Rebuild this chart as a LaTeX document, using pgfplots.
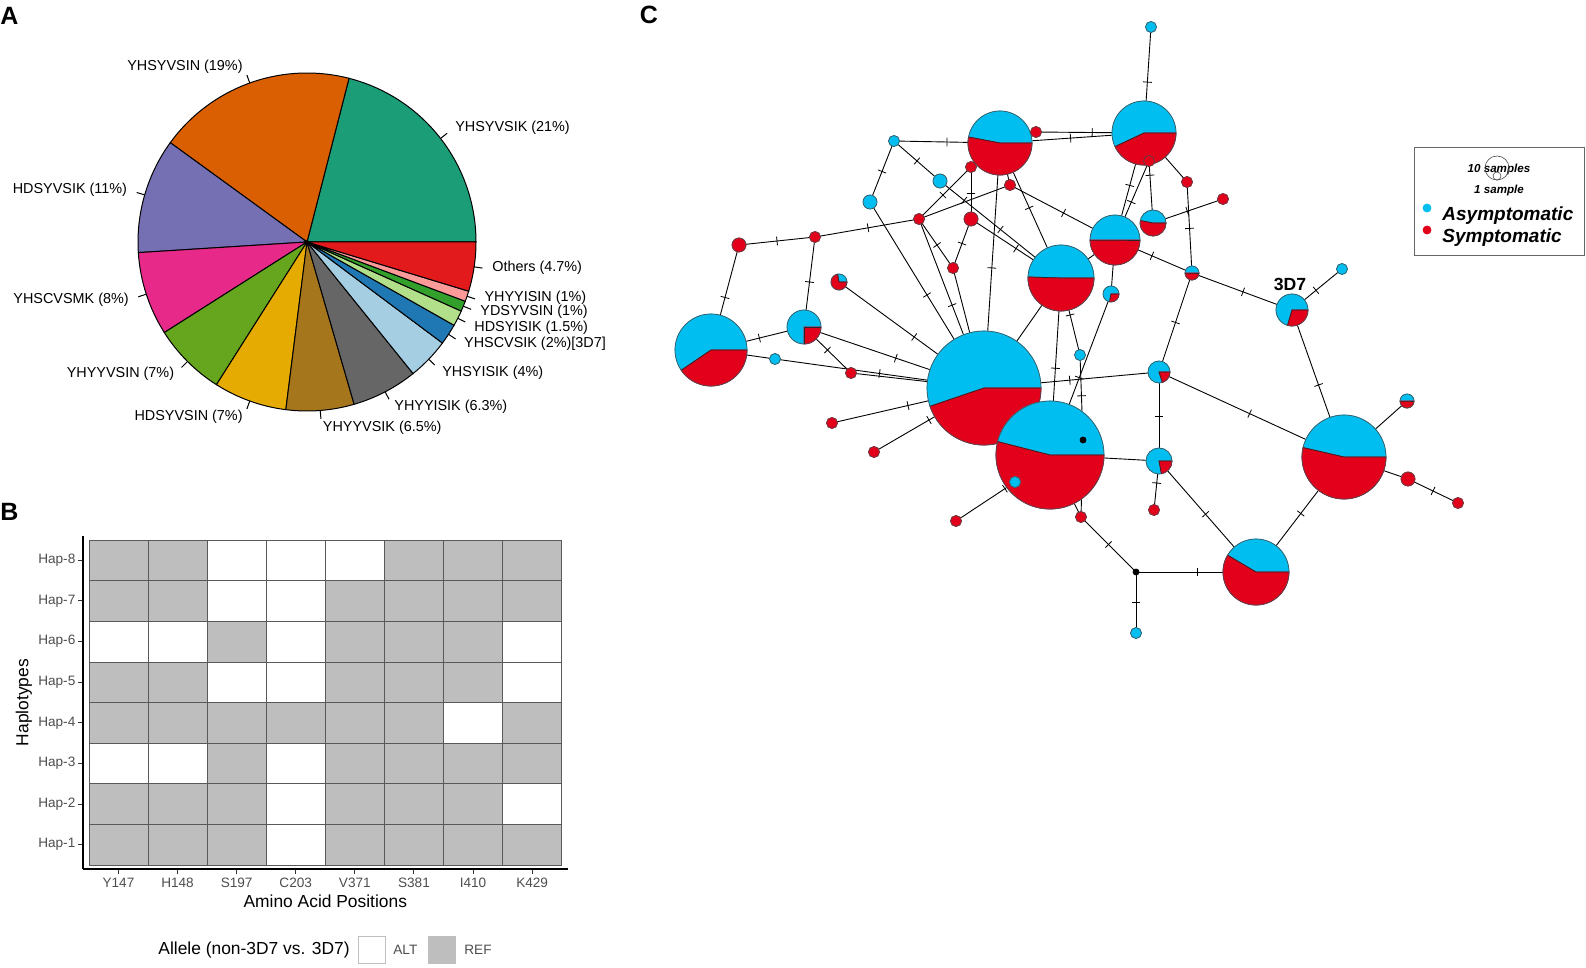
\documentclass[border=0pt]{standalone}
\usepackage{fontspec}
\setmainfont{Liberation Sans}
\usepackage{pgfplots}
\pgfplotsset{compat=1.18}
\usetikzlibrary{decorations.markings}

% pie colours (Dark2 + Paired)
\definecolor{pA}{HTML}{1B9E77}
\definecolor{pB}{HTML}{D95F02}
\definecolor{pC}{HTML}{7570B3}
\definecolor{pD}{HTML}{E7298A}
\definecolor{pE}{HTML}{66A61E}
\definecolor{pF}{HTML}{E6AB02}
\definecolor{pG}{HTML}{A6761D}
\definecolor{pH}{HTML}{666666}
\definecolor{pI}{HTML}{A6CEE3}
\definecolor{pJ}{HTML}{1F78B4}
\definecolor{pK}{HTML}{B2DF8A}
\definecolor{pL}{HTML}{33A02C}
\definecolor{pM}{HTML}{FB9A99}
\definecolor{pN}{HTML}{E31A1C}
\definecolor{cblue}{RGB}{0,190,240}
\definecolor{cred}{RGB}{226,0,26}
\definecolor{refgray}{RGB}{190,190,190}
\definecolor{txtgray}{RGB}{77,77,77}

% a mark that draws nothing; the scatter code below does the drawing
\pgfdeclareplotmark{blank}{}

\newcommand\piefont{\fontsize{7.2}{8.6}\selectfont}
\newcommand\pielabel[1]{\ifcase#1 YHSYVSIK (21\%)\or YHSYVSIN (19\%)\or HDSYVSIK (11\%)\or
  YHSCVSMK (8\%)\or YHYYVSIN (7\%)\or HDSYVSIN (7\%)\or YHYYVSIK (6.5\%)\or
  YHYYISIK (6.3\%)\or YHSYISIK (4\%)\or YHSCVSIK (2\%)[3D7]\or HDSYISIK (1.5\%)\or
  YDSYVSIN (1\%)\or YHYYISIN (1\%)\or Others (4.7\%)\fi}

\pgfplotsset{
  edge/.style={black, line width=0.45pt},
  tk/.style={postaction={decorate, decoration={markings,
      mark=at position #1 with {\draw[line width=0.4pt, black] (0,-2.2pt) -- (0,2.2pt);}}}},
}

\begin{document}
\begin{tikzpicture}

% ---------- canvas axis in pixel units: panel A pie and panel C network
\begin{axis}[
  at={(0,0)}, anchor=south west, scale only axis,
  width=793pt, height=484pt,
  xmin=0, xmax=1586, ymin=0, ymax=968, y dir=reverse,
  hide axis, clip=false,
]
% panel letters
\node[font=\bfseries\fontsize{12.5}{14}\selectfont] at (axis cs:9.5,16) {A};
\node[font=\bfseries\fontsize{12.5}{14}\selectfont] at (axis cs:9.5,512) {B};
\node[font=\bfseries\fontsize{12.5}{14}\selectfont] at (axis cs:649,15) {C};

% ---- pie (p = percent, a = start angle, d = label nudge in px)
\addplot[scatter, only marks, mark=blank,
  visualization depends on={\thisrow{a}\as\aA},
  visualization depends on={\thisrow{p}\as\pp},
  visualization depends on={\thisrow{d}\as\dd},
  visualization depends on={value \thisrow{c}\as\cc},
  visualization depends on={value \thisrow{i}\as\ii},
  scatter/@pre marker code/.code={%
    \pgfmathsetmacro\pe{\aA+3.6*\pp}%
    \pgfmathsetmacro\pmid{\aA+1.8*\pp}%
    \pgfmathsetmacro\dsh{-0.5*\dd}%
    \filldraw[fill=\cc, draw=black, line width=0.5pt] (0,0) -- (\aA:84.5pt)
      arc[start angle=\aA, end angle=\pe, radius=84.5pt] -- cycle;
    \draw[line width=0.5pt] (\pmid:84.5pt) -- (\pmid:88.7pt);
    \pgfmathsetmacro\pcos{cos(\pmid)}%
    \ifdim\pcos pt>0pt \def\an{west}\else\def\an{east}\fi
    \node[anchor=\an, inner sep=0.5pt, font=\piefont, yshift=\dsh pt] at (\pmid:93pt) {\pielabel{\ii}};
  },
  scatter/@post marker code/.code={},
] table {
x   y   p   a      c  i  d
307 242 21  0      pA 0  0
307 242 19  75.6   pB 1  0
307 242 11  144    pC 2  0
307 242 8   183.6  pD 3  0
307 242 7   212.4  pE 4  0
307 242 7   237.6  pF 5  0
307 242 6.5 262.8  pG 6  0
307 242 6.3 286.2  pH 7  0
307 242 4   308.88 pI 8  2
307 242 2   323.28 pJ 9  0
307 242 1.5 330.48 pK 10 2
307 242 1   335.88 pL 11 -1
307 242 1   339.48 pM 12 -4
307 242 4.7 343.08 pN 13 -2
};

% ---- network edges
\addplot[edge,tk=.5] coordinates {(894,141) (1000,143)};
\addplot[edge,tk=.5] coordinates {(894,141) (870,202)};
\addplot[edge,tk=.5] coordinates {(894,141) (940,181)};
\addplot[edge,tk=.2,tk=.5] coordinates {(940,181) (1061,278)};
\addplot[edge,tk=.5] coordinates {(971,219) (1061,278)};
\addplot[edge,tk=.52] coordinates {(1036,132) (1144,133)};
\addplot[edge,tk=.49] coordinates {(1000,143) (1144,133)};
\addplot[edge,tk=.54] coordinates {(971,167) (919,219)};
\addplot[edge,tk=.5] coordinates {(971,167) (971,219)};
\addplot[edge] coordinates {(919,219) (1010,185)};
\addplot[edge,tk=.51] coordinates {(1010,185) (1115,240)};
\addplot[edge,tk=.48] coordinates {(1000,143) (1061,278)};
\addplot[edge,tk=.51] coordinates {(1000,143) (984,388)};
\addplot[edge,tk=.51] coordinates {(815,237) (919,219)};
\addplot[edge,tk=.5] coordinates {(739,245) (815,237)};
\addplot[edge,tk=.5] coordinates {(739,245) (711,350)};
\addplot[edge,tk=.5] coordinates {(815,237) (804,327)};
\addplot[edge,tk=.5] coordinates {(870,202) (984,388)};
\addplot[edge,tk=.53] coordinates {(919,219) (953,268)};
\addplot[edge,tk=.51] coordinates {(919,219) (984,388)};
\addplot[edge,tk=.5] coordinates {(953,268) (971,219)};
\addplot[edge] coordinates {(953,268) (984,388)};
\addplot[edge,tk=.52] coordinates {(839,282) (984,388)};
\addplot[edge,tk=.48] coordinates {(804,327) (711,350)};
\addplot[edge,tk=.51] coordinates {(804,327) (984,388)};
\addplot[edge,tk=.5] coordinates {(804,327) (851,373)};
\addplot[edge] coordinates {(711,350) (775,359)};
\addplot[edge,tk=.5] coordinates {(775,359) (984,388)};
\addplot[edge] coordinates {(851,373) (984,388)};
\addplot[edge,tk=.5] coordinates {(832,423) (984,388)};
\addplot[edge,tk=.5] coordinates {(874,452) (984,388)};
\addplot[edge,tk=.85] coordinates {(984,388) (1061,278)};
\addplot[edge,tk=.51] coordinates {(1061,278) (1050,455)};
\addplot[edge,tk=.48] coordinates {(1061,278) (1080,355)};
\addplot[edge,tk=.48] coordinates {(1080,355) (1083,440)};
\addplot[edge] coordinates {(1083,440) (1081,517)};
\addplot[edge,tk=.52] coordinates {(1111,294) (1050,455)};
\addplot[edge,tk=.49] coordinates {(984,388) (1159,372)};
\addplot[edge,tk=.5] coordinates {(1192,273) (1159,372)};
\addplot[edge,tk=.5] coordinates {(1159,372) (1159,461)};
\addplot[edge,tk=.49] coordinates {(1159,372) (1344,457)};
\addplot[edge] coordinates {(1050,455) (1159,461)};
\addplot[edge,tk=.45] coordinates {(1159,461) (1154,510)};
\addplot[edge,tk=.48] coordinates {(1159,461) (1256,572)};
\addplot[edge,tk=.51] coordinates {(1256,572) (1344,457)};
\addplot[edge,tk=.49] coordinates {(1344,457) (1292,310)};
\addplot[edge] coordinates {(1344,457) (1407,401)};
\addplot[edge] coordinates {(1344,457) (1408,479)};
\addplot[edge,tk=.5] coordinates {(1408,479) (1458,503)};
\addplot[edge,tk=.51] coordinates {(1136,572) (1256,572)};
\addplot[edge,tk=.5] coordinates {(1136,572) (1136,633)};
\addplot[edge,tk=.5] coordinates {(1081,517) (1136,572)};
\addplot[edge] coordinates {(1050,455) (1081,517)};
\addplot[edge,tk=.83] coordinates {(956,521) (1015,482)};
\addplot[edge,tk=.48] coordinates {(1292,310) (1342,269)};
\addplot[edge,tk=.51] coordinates {(1192,273) (1292,310)};
\addplot[edge,tk=.48] coordinates {(1115,240) (1192,273)};
\addplot[edge,tk=.49] coordinates {(1192,273) (1187,182)};
\addplot[edge] coordinates {(1187,182) (1144,133)};
\addplot[edge,tk=.49] coordinates {(1153,223) (1223,199)};
\addplot[edge,tk=.77] coordinates {(1153,223) (1149,161)};
\addplot[edge,tk=.51] coordinates {(1115,240) (1144,133)};
\addplot[edge,tk=.48] coordinates {(1115,240) (1149,161)};
\addplot[edge,tk=.48] coordinates {(1144,133) (1151,27)};
\addplot[edge] coordinates {(1061,278) (1115,240)};
\addplot[edge] coordinates {(1115,240) (1111,294)};
\addplot[edge] coordinates {(1010,185) (1000,143)};

% ---- network haplotype nodes: r = radius (px), f = asymptomatic share
\addplot[scatter, only marks, mark=blank,
  visualization depends on={\thisrow{r}\as\rr},
  visualization depends on={\thisrow{f}\as\ff},
  scatter/@pre marker code/.code={%
    \pgfmathsetmacro\rad{0.5*\rr}%
    \pgfmathsetmacro\fa{360*\ff}%
    \ifdim\ff pt<0.001pt
      \fill[cred] (0,0) circle[radius=\rad pt];
    \else
      \fill[cblue] (0,0) circle[radius=\rad pt];
      \ifdim\ff pt<0.999pt
        \fill[cred] (0,0) -- (\fa:\rad pt) arc[start angle=\fa, end angle=360, radius=\rad pt] -- cycle;
        \draw[line width=0.35pt, black!85] (\fa:\rad pt) -- (0,0) -- (0:\rad pt);
      \fi
    \fi
    \draw[line width=0.3pt, black!70] (0,0) circle[radius=\rad pt];
  },
  scatter/@post marker code/.code={},
] table {
x    y   r    f
1000 143 32   0.47
1144 133 32   0.57
1061 278 33   0.495
1115 240 25   0.50
984  388 57   0.552
1050 455 54   0.46
711  350 36   0.595
1344 457 42   0.464
1256 572 33   0.415
804  327 17   0.75
1292 310 16   0.705
1153 223 13   0.47
1159 461 13   0.78
1159 372 11   0.80
839  282 8    0.28
1111 294 8    0.72
1192 273 7    0.5
1407 401 7    0.5
1151 27  5.5  1
894  141 5.5  1
940  181 7    1
870  202 7    1
775  359 5.5  1
1080 355 5.5  1
1015 482 5.5  1
1342 269 5.5  1
1136 633 5.5  1
1036 132 5.5  0
971  167 5.5  0
1010 185 5.5  0
919  219 5.5  0
971  219 7    0
739  245 7    0
815  237 5.5  0
953  268 5.5  0
851  373 5.5  0
832  423 5.5  0
874  452 5.5  0
956  521 5.5  0
1081 517 5.5  0
1149 161 5.5  0
1187 182 5.5  0
1223 199 5.5  0
1154 510 5.5  0
1408 479 7    0
1458 503 5.5  0
};
% median vectors
\addplot[only marks, mark=*, black, mark size=1.5pt] coordinates {(1083,440) (1136,572)};

\node[font=\bfseries\fontsize{8.8}{10}\selectfont] at (axis cs:1290,284) {3D7};

% ---- network legend
\draw[black!60, line width=0.5pt] (axis cs:1414,148) rectangle (axis cs:1584,256);
\addplot[only marks, mark=o, mark size=6pt, black!70, mark options={line width=0.3pt}] coordinates {(1497,168)};
\addplot[only marks, mark=o, mark size=2pt, black!70, mark options={line width=0.3pt}] coordinates {(1497,176)};
\node[font=\bfseries\itshape\fontsize{5.8}{7}\selectfont] at (axis cs:1499,170) {10 samples};
\node[font=\bfseries\itshape\fontsize{5.8}{7}\selectfont] at (axis cs:1499,191) {1 sample};
\addplot[only marks, mark=*, cblue, mark size=2pt] coordinates {(1427,208)};
\addplot[only marks, mark=*, cred, mark size=2pt] coordinates {(1427,230)};
\node[anchor=west, inner sep=0pt, font=\bfseries\itshape\fontsize{9.5}{11}\selectfont] at (axis cs:1442,216) {Asymptomatic};
\node[anchor=west, inner sep=0pt, font=\bfseries\itshape\fontsize{9.5}{11}\selectfont] at (axis cs:1442,238) {Symptomatic};

% ---- heatmap legend
\node[anchor=east, inner sep=0pt, font=\fontsize{8.7}{10}\selectfont] at (axis cs:350,950) {Allele (non-3D7 vs. 3D7)};
\draw[fill=white, draw=black!25, line width=0.5pt] (axis cs:358,936) rectangle (axis cs:385,963);
\node[anchor=west, inner sep=0pt, font=\fontsize{6.8}{8}\selectfont, text=txtgray] at (axis cs:393,950) {ALT};
\draw[fill=refgray, draw=black!25, line width=0.5pt] (axis cs:428,936) rectangle (axis cs:455,963);
\node[anchor=west, inner sep=0pt, font=\fontsize{6.8}{8}\selectfont, text=txtgray] at (axis cs:464,950) {REF};
\end{axis}

% ---------- panel B heatmap
\begin{axis}[
  at={(41.5pt,49.5pt)}, anchor=south west, scale only axis,
  width=242.3pt, height=166.5pt,
  xmin=0.4, xmax=8.6, ymin=0.4, ymax=8.6,
  axis x line*=bottom, axis y line*=left,
  axis line style={line width=0.75pt, -},
  xtick={1,...,8}, xticklabels={Y147,H148,S197,C203,V371,S381,I410,K429},
  ytick={1,...,8}, yticklabels={Hap-1,Hap-2,Hap-3,Hap-4,Hap-5,Hap-6,Hap-7,Hap-8},
  tick align=outside, major tick length=2.5pt,
  tick style={line width=0.5pt, black!80},
  tick label style={font=\fontsize{6.8}{8}\selectfont, text=txtgray},
  xticklabel style={yshift=1.5pt},
  yticklabel style={xshift=2.2pt},
  xlabel={Amino Acid Positions}, ylabel={Haplotypes},
  label style={font=\fontsize{8.7}{10}\selectfont},
  xlabel style={at={(axis description cs:0.5,-0.096)}, anchor=center},
  ylabel style={at={(axis description cs:-0.122,0.5)}, anchor=center},
  colormap={allele}{rgb255=(255,255,255) rgb255=(190,190,190)},
  point meta min=0, point meta max=1,
]
\addplot[matrix plot*, mesh/cols=8, point meta=explicit,
  shader=faceted, faceted color=black!65, line width=0.3pt] table[meta=c] {
x y c
1 1 1
2 1 1
3 1 1
4 1 0
5 1 1
6 1 1
7 1 1
8 1 1
1 2 1
2 2 1
3 2 1
4 2 0
5 2 1
6 2 1
7 2 1
8 2 0
1 3 0
2 3 0
3 3 1
4 3 0
5 3 1
6 3 1
7 3 1
8 3 1
1 4 1
2 4 1
3 4 1
4 4 1
5 4 1
6 4 1
7 4 0
8 4 1
1 5 1
2 5 1
3 5 0
4 5 0
5 5 1
6 5 1
7 5 1
8 5 0
1 6 0
2 6 0
3 6 1
4 6 0
5 6 1
6 6 1
7 6 1
8 6 0
1 7 1
2 7 1
3 7 0
4 7 0
5 7 1
6 7 1
7 7 1
8 7 1
1 8 1
2 8 1
3 8 0
4 8 0
5 8 0
6 8 1
7 8 1
8 8 1
};
\end{axis}

\pgfresetboundingbox
\path (0,0) rectangle (793pt,484pt);
\end{tikzpicture}
\end{document}
